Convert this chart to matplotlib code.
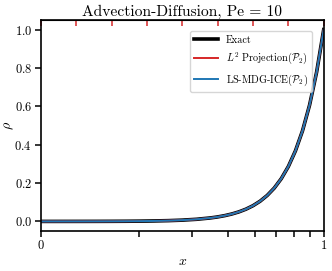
import matplotlib
matplotlib.use("Agg")
import matplotlib.pyplot as plt

plt.rcParams['font.family'] = 'serif'
plt.rcParams['font.serif'] = ['cmr10']
plt.rcParams['mathtext.fontset'] = 'cm'
plt.rcParams['axes.formatter.use_mathtext'] = True
plt.rcParams['axes.unicode_minus'] = False

x = [0.0, 0.05, 0.1, 0.15, 0.2, 0.25, 0.3, 0.35, 0.4, 0.45, 0.5, 0.55, 0.6,
     0.625, 0.65, 0.675, 0.7, 0.725, 0.75, 0.775, 0.8, 0.825, 0.85, 0.875,
     0.9, 0.925, 0.95, 0.975, 1.0]
rho_exact = [0.0, 0.0000295, 0.000078, 0.000158, 0.00029, 0.000508, 0.000867,
             0.001458, 0.002434, 0.004042, 0.006693, 0.011064, 0.018271,
             0.023473, 0.030154, 0.03873, 0.049744, 0.063885, 0.082045,
             0.105359, 0.135298, 0.173736, 0.223097, 0.286472, 0.367851,
             0.47234, 0.606514, 0.77879, 1.0]
rho_l2 = list(rho_exact)
rho_mdg = list(rho_exact)

mesh_nodes = [0.0, 0.348, 0.535, 0.66, 0.756, 0.831, 0.895, 0.951, 1.0]
uniform_nodes = [0.0, 0.125, 0.25, 0.375, 0.5, 0.625, 0.75, 0.875, 1.0]
mesh_labels = ['0', '', '', '', '', '', '', '', '1']
y_ticks = [0.0, 0.2, 0.4, 0.6, 0.8, 1.0]

fig = plt.figure(figsize=(3.32, 2.71), dpi=100)
ax = fig.add_axes([0.1235, 0.1476, 0.8515, 0.7784])

ax.plot(x, rho_exact, color='black', lw=2.6, label='Exact')
ax.plot(x, rho_l2, color='#d62728', lw=1.4, label=r'$L^2$ Projection$(\mathcal{P}_2)$')
ax.plot(x, rho_mdg, color='#1f77b4', lw=1.4, label=r'LS-MDG-ICE$(\mathcal{P}_2)$')

ax.set_xlim(0, 1)
ax.set_ylim(-0.05, 1.05)
ax.set_xticks(mesh_nodes)
ax.set_xticklabels(mesh_labels)
ax.set_yticks(y_ticks)
ax.tick_params(axis='both', labelsize=9, length=4, width=1.1, pad=2.5)
for s in ax.spines.values():
    s.set_linewidth(1.2)

sec = ax.secondary_xaxis('top')
sec.set_xticks(uniform_nodes)
sec.set_xticklabels([])
sec.tick_params(direction='in', color='#d62728', length=4, width=1.1)

ax.set_title('Advection-Diffusion, Pe = 10', fontsize=11.2, pad=3)
ax.set_xlabel(r'$x$', fontsize=10, labelpad=3)
ax.set_ylabel(r'$\rho$', fontsize=10)
ax.yaxis.set_label_coords(-0.088, 0.5)

ax.legend(loc='upper right', bbox_to_anchor=(0.9586, 0.948), borderaxespad=0,
          fontsize=7.3, framealpha=0.8, handlelength=2.3, labelspacing=0.6)

fig.savefig('out.png', dpi=100)
